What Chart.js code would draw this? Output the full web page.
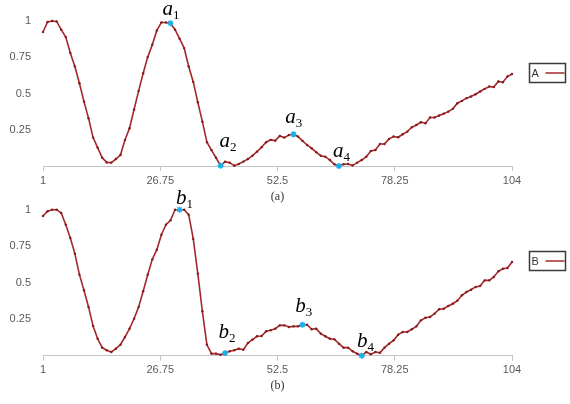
<!DOCTYPE html>
<html>
<head>
<meta charset="utf-8">
<script src="https://cdn.jsdelivr.net/npm/chart.js@4.4.1/dist/chart.umd.min.js"></script>
<style>
  html, body { margin: 0; padding: 0; background: #fff; }
  #wrap { position: relative; width: 570px; height: 404px; }
  #wrap canvas { position: absolute; left: 0; }
</style>
</head>
<body>
<div id="wrap">
  <canvas id="chartA" width="570" height="206" style="top:0px"></canvas>
  <canvas id="chartB" width="570" height="218" style="top:186px"></canvas>
</div>
<script>
// values, one per x = 1..104
const seriesA = [0.924, 0.993, 1.0, 0.997, 0.94, 0.889, 0.779, 0.686, 0.571, 0.444,
  0.33, 0.196, 0.127, 0.057, 0.025, 0.023, 0.048, 0.076, 0.18, 0.26,
  0.39, 0.518, 0.64, 0.751, 0.836, 0.935, 0.99, 0.99, 0.985, 0.94,
  0.878, 0.813, 0.686, 0.58, 0.44, 0.306, 0.164, 0.11, 0.057, 0.002,
  0.03, 0.023, 0.002, 0.014, 0.03, 0.048, 0.071, 0.099, 0.129, 0.164,
  0.18, 0.175, 0.207, 0.196, 0.214, 0.219, 0.203, 0.173, 0.145, 0.122,
  0.095, 0.071, 0.064, 0.041, 0.012, 0.0, 0.012, 0.014, 0.004, 0.023,
  0.041, 0.064, 0.104, 0.11, 0.152, 0.152, 0.187, 0.203, 0.198, 0.219,
  0.237, 0.267, 0.283, 0.302, 0.295, 0.334, 0.334, 0.348, 0.361, 0.375,
  0.394, 0.433, 0.449, 0.468, 0.479, 0.495, 0.514, 0.532, 0.548, 0.544,
  0.583, 0.578, 0.617, 0.634];

const seriesB = [0.957, 0.989, 1.0, 1.0, 0.977, 0.897, 0.806, 0.699, 0.555, 0.448,
  0.334, 0.203, 0.116, 0.055, 0.037, 0.025, 0.048, 0.075, 0.128, 0.185,
  0.253, 0.334, 0.441, 0.555, 0.66, 0.726, 0.829, 0.897, 0.927, 1.0,
  1.0, 1.0, 0.966, 0.8, 0.562, 0.304, 0.075, 0.014, 0.014, 0.007,
  0.018, 0.03, 0.037, 0.048, 0.041, 0.087, 0.11, 0.133, 0.135, 0.167,
  0.174, 0.185, 0.208, 0.208, 0.197, 0.201, 0.201, 0.212, 0.212, 0.181,
  0.185, 0.151, 0.133, 0.116, 0.112, 0.082, 0.055, 0.055, 0.03, 0.014,
  0.0, 0.025, 0.01, 0.025, 0.02, 0.055, 0.082, 0.105, 0.144, 0.162,
  0.162, 0.181, 0.201, 0.242, 0.26, 0.265, 0.288, 0.318, 0.322, 0.34,
  0.356, 0.377, 0.414, 0.436, 0.452, 0.471, 0.477, 0.516, 0.516, 0.539,
  0.578, 0.596, 0.601, 0.642];

// x positions of the marked points a1..a4 and b1..b4
const keysA = [29, 40, 56, 66];
const keysB = [31, 41, 58, 71];

const xTicks = [1, 26.75, 52.5, 78.25, 104];
const yTicks = [0.25, 0.5, 0.75, 1];

const lineColor = '#a3282b';
const starColor = '#17b0ea';
const tickColor = '#5a5a5a';
const axisColor = '#c4c4c4';

// draws the a_i / b_i labels, the caption and the small legend box
const annotate = {
  id: 'annotate',
  afterDatasetsDraw(chart, args, opts) {
    const ctx = chart.ctx;
    const area = chart.chartArea;
    const meta = chart.getDatasetMeta(1);
    ctx.save();
    ctx.fillStyle = '#000';
    ctx.textAlign = 'left';
    ctx.textBaseline = 'alphabetic';
    meta.data.forEach((pt, n) => {
      const off = opts.offsets[n];
      const x = pt.x + off[0], y = pt.y + off[1];
      ctx.font = 'italic 21px "Liberation Serif"';
      ctx.fillText(opts.letter, x, y);
      const w = ctx.measureText(opts.letter).width;
      ctx.font = '13px "Liberation Serif"';
      ctx.fillText(String(n + 1), x + w, y + 4);
    });

    // caption under the axis
    ctx.font = '12px "Liberation Serif"';
    ctx.fillStyle = '#333';
    ctx.textAlign = 'center';
    ctx.fillText(opts.caption, (area.left + area.right) / 2, area.bottom + 33.5);

    // legend box
    const bx = Math.round(area.right + 16.5) + 0.5;
    const by = Math.round(area.top + 41.5) + 0.5;
    ctx.strokeStyle = '#3a3a3a';
    ctx.lineWidth = 1.5;
    ctx.strokeRect(bx, by, 36, 19);
    ctx.font = '11px "Liberation Sans"';
    ctx.fillStyle = '#333';
    ctx.textAlign = 'left';
    ctx.textBaseline = 'middle';
    ctx.fillText(opts.legend, bx + 2, by + 10);
    ctx.strokeStyle = lineColor;
    ctx.lineWidth = 1.5;
    ctx.beginPath();
    ctx.moveTo(bx + 16, by + 9.5);
    ctx.lineTo(bx + 35, by + 9.5);
    ctx.stroke();
    ctx.restore();
  }
};

function makeChart(id, values, keys, cfg) {
  const ctx = document.getElementById(id).getContext('2d');
  return new Chart(ctx, {
    type: 'line',
    data: {
      datasets: [{
        data: values.map((v, i) => ({ x: i + 1, y: v })),
        borderColor: lineColor,
        borderWidth: 1.6,
        pointRadius: 1.2,
        pointBackgroundColor: '#8a1a1a',
        pointBorderWidth: 0,
        tension: 0,
        clip: false,
        order: 1
      }, {
        data: keys.map(k => ({ x: k, y: values[k - 1] })),
        showLine: false,
        pointStyle: 'star',
        pointRadius: 3,
        borderColor: starColor,
        backgroundColor: starColor,
        pointBorderWidth: 1.5,
        clip: false,
        order: 0
      }]
    },
    options: {
      responsive: false,
      animation: false,
      layout: { padding: { left: 0, right: 58, top: cfg.top, bottom: 0 } },
      plugins: {
        legend: { display: false },
        tooltip: { enabled: false },
        annotate: { letter: cfg.letter, caption: cfg.caption, legend: cfg.legend, offsets: cfg.offsets }
      },
      scales: {
        x: {
          type: 'linear',
          min: 1,
          max: 104,
          afterBuildTicks: s => { s.ticks = xTicks.map(v => ({ value: v })); },
          afterFit: s => { s.height = cfg.xHeight; },
          grid: { drawOnChartArea: false, drawTicks: true, tickLength: 5, color: axisColor },
          border: { display: true, color: axisColor },
          ticks: {
            callback: v => String(v),
            color: tickColor,
            font: { family: 'Liberation Sans', size: 11 },
            padding: 3,
            maxRotation: 0,
            autoSkip: false
          }
        },
        y: {
          min: 0,
          max: 1,
          afterBuildTicks: s => { s.ticks = yTicks.map(v => ({ value: v })); },
          afterFit: s => { s.width = 43; },
          grid: { display: false },
          border: { display: false },
          ticks: {
            callback: v => String(v),
            color: tickColor,
            font: { family: 'Liberation Sans', size: 11 },
            padding: 4
          }
        }
      }
    },
    plugins: [annotate]
  });
}

makeChart('chartA', seriesA, keysA, {
  top: 21, xHeight: 40, letter: 'a', caption: '(a)', legend: 'A',
  offsets: [[-8, -7.7], [-1, -19], [-8.3, -11], [-6, -8.7]]
});

makeChart('chartB', seriesB, keysB, {
  top: 23.7, xHeight: 48.3, letter: 'b', caption: '(b)', legend: 'B',
  offsets: [[-3.5, -6.2], [-6.7, -14.7], [-7.3, -12.4], [-4.8, -9]]
});
</script>
</body>
</html>
